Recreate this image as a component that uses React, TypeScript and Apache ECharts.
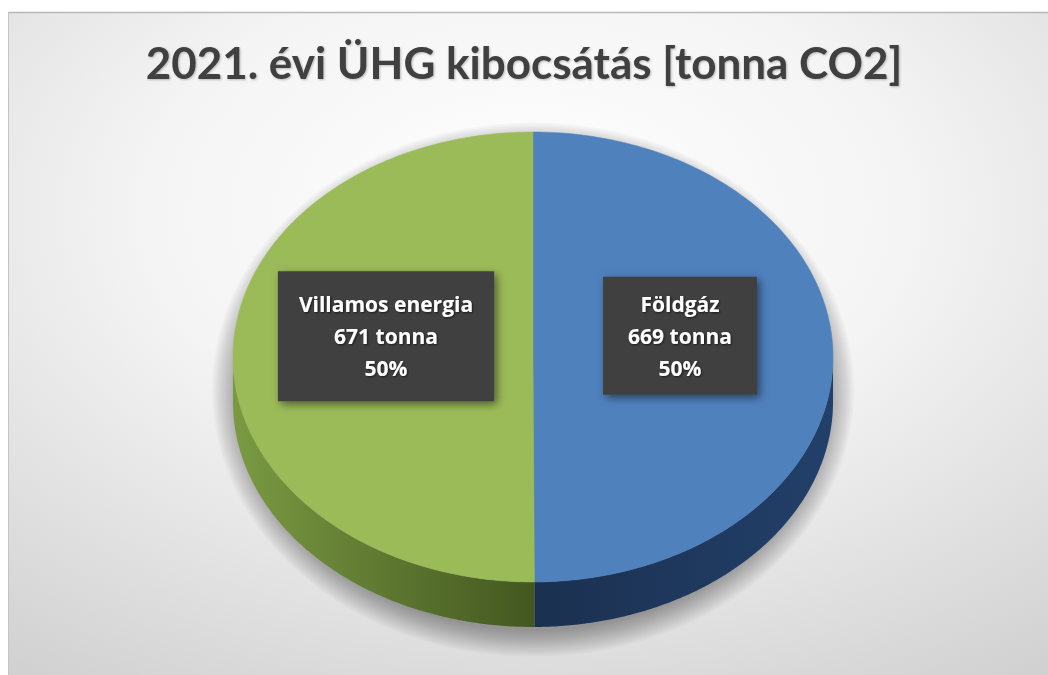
import React, { useEffect, useRef } from "react";
import * as echarts from "echarts";

const titleText = "2021. évi ÜHG kibocsátás [tonna CO2]";
const categories = ["Földgáz", "Villamos energia"];
const values = [669, 671];
const unit = "tonna";

const CX = 533;
const CY = 357;
const RX = 300;
const RY = 225;
const DEPTH = 45;
const topColors = ["#4F81BD", "#9BBB59"];
const sideColors = [
  ["#1b3050", "#22406a"],
  ["#7a9a42", "#435720"],
];
const labelPadding = [
  [11, 25],
  [17, 21],
];

export default function App() {
  const ref = useRef<HTMLDivElement>(null);
  useEffect(() => {
    if (!ref.current) return;
    const chart = echarts.init(ref.current, undefined, { renderer: "svg" });
    const total = values.reduce((a, b) => a + b, 0);

    const renderItem = (params: any, api: any) => {
      const i = params.dataIndex;
      const v = api.value(0);
      let start = 0;
      for (let k = 0; k < i; k++) start += values[k];
      const a0 = -Math.PI / 2 + (start / total) * 2 * Math.PI;
      const a1 = a0 + (v / total) * 2 * Math.PI;
      const pt = (t: number, dy = 0) => [CX + RX * Math.cos(t), CY + RY * Math.sin(t) + dy];
      const N = 160;
      const top: number[][] = [[CX, CY]];
      for (let s = 0; s <= N; s++) top.push(pt(a0 + ((a1 - a0) * s) / N));
      const children: any[] = [];
      if (i === 0) {
        for (let k = 0; k < 16; k++) {
          children.push({
            type: "ellipse",
            z2: 0,
            silent: true,
            shape: {
              cx: CX,
              cy: CY + DEPTH / 2 + 10,
              rx: RX - 6 + k * 1.8,
              ry: RY + DEPTH / 2 - 6 + k * 1.7,
            },
            style: { fill: "rgba(0,0,0,0.025)" },
          });
        }
      }
      for (const off of [0, 2 * Math.PI, -2 * Math.PI]) {
        const s0 = Math.max(a0, off);
        const s1 = Math.min(a1, off + Math.PI);
        if (s1 > s0) {
          const pts: number[][] = [];
          for (let s = 0; s <= N; s++) pts.push(pt(s0 + ((s1 - s0) * s) / N));
          for (let s = N; s >= 0; s--) pts.push(pt(s0 + ((s1 - s0) * s) / N, DEPTH));
          children.push({
            type: "polygon",
            z2: 1,
            shape: { points: pts },
            style: {
              fill: new echarts.graphic.LinearGradient(0, 0, 1, 0, [
                { offset: 0, color: sideColors[i][0] },
                { offset: 1, color: sideColors[i][1] },
              ]),
              stroke: null,
            },
          });
        }
      }
      children.push({
        type: "polygon",
        z2: 2,
        shape: { points: top },
        style: { fill: topColors[i], stroke: topColors[i], lineWidth: 0.5 },
      });
      const mid = (a0 + a1) / 2;
      const lx = CX + 0.49 * RX * Math.cos(mid);
      const ly = CY + 0.49 * RY * Math.sin(mid) - 21;
      const pct = Math.round((v / total) * 100) + "%";
      children.push({
        type: "text",
        z2: 3,
        x: lx,
        y: ly,
        style: {
          text: `${categories[i]}\n${v} ${unit}\n${pct}`,
          fill: "#ffffff",
          font: "bold 21px 'Open Sans'",
          lineHeight: 32,
          align: "center",
          verticalAlign: "middle",
          backgroundColor: "#404040",
          padding: labelPadding[i],
          shadowBlur: 8,
          shadowColor: "rgba(0,0,0,0.5)",
          shadowOffsetX: 3,
          shadowOffsetY: 3,
          textShadowBlur: 2,
          textShadowColor: "rgba(0,0,0,0.6)",
          textShadowOffsetX: 1,
          textShadowOffsetY: 1,
        },
      });
      return { type: "group", children };
    };

    chart.setOption({
      animation: false,
      backgroundColor: "#ffffff",
      title: {
        text: titleText,
        left: "center",
        top: 35,
        textStyle: {
          fontFamily: "Lato",
          fontWeight: "bold",
          fontSize: 44,
          color: "#404040",
          textShadowBlur: 2,
          textShadowColor: "rgba(0,0,0,0.25)",
          textShadowOffsetX: 1,
          textShadowOffsetY: 1,
        },
      },
      graphic: [
        {
          type: "rect",
          z: -10,
          silent: true,
          shape: { x: 8, y: 12, width: 1040, height: 663 },
          style: {
            fill: new echarts.graphic.RadialGradient(0.5, 0.3, 1.05, [
              { offset: 0, color: "#ffffff" },
              { offset: 0.35, color: "#f4f4f4" },
              { offset: 1, color: "#c2c2c2" },
            ]),
          },
        },
        {
          type: "line",
          z: -9,
          silent: true,
          shape: { x1: 8, y1: 12.5, x2: 1048, y2: 12.5 },
          style: { stroke: "#b8b8b8", lineWidth: 1.5 },
        },
        {
          type: "line",
          z: -9,
          silent: true,
          shape: { x1: 8.5, y1: 12, x2: 8.5, y2: 675 },
          style: { stroke: "#c4c4c4", lineWidth: 1 },
        },
      ],
      series: [
        {
          type: "custom",
          coordinateSystem: "none",
          renderItem,
          data: values.map((v, i) => [v, categories[i]]),
        },
      ],
    });
    return () => chart.dispose();
  }, []);
  return (
    <div
      ref={ref}
      style={{ position: "absolute", left: 0, top: 0, width: 1048, height: 675 }}
    />
  );
}
